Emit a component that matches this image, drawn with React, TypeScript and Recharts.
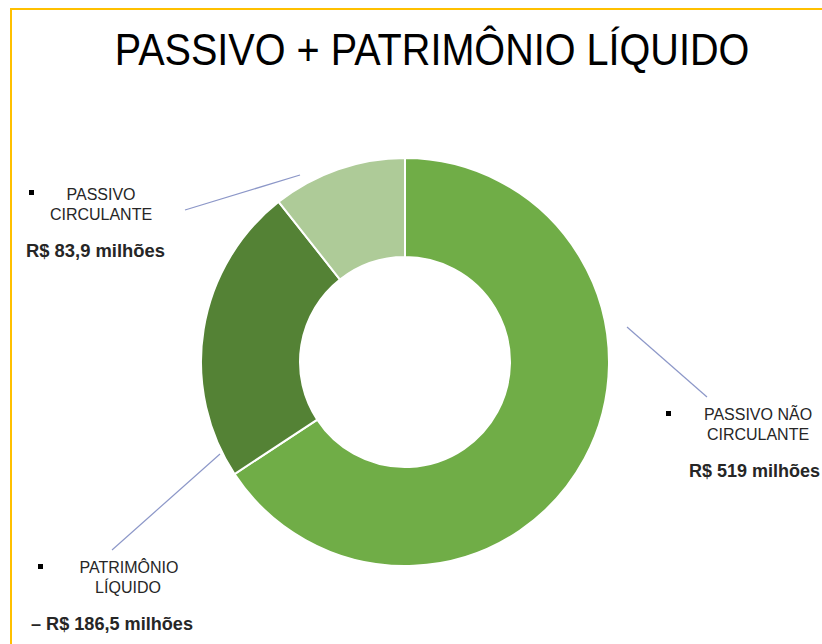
import { PieChart, Pie, Cell, Customized } from "recharts";

const categories = ["PASSIVO NÃO CIRCULANTE", "PATRIMÔNIO LÍQUIDO", "PASSIVO CIRCULANTE"];
const values = [519, 186.5, 83.9];
const valueLabels = ["R$ 519 milhões", "– R$ 186,5 milhões", "R$ 83,9 milhões"];
const colors = ["#70AD47", "#548235", "#AECB98"];

const data = categories.map((name, i) => ({ name, value: values[i] }));

const labelColor = "#262626";
const lineColor = "#8C97C8";

// text blocks + leader lines drawn on top of the pie
function Annotations() {
  return (
    <g fontFamily="'Liberation Sans', Arial, sans-serif">
      <g transform="translate(432 65) scale(0.88 1)">
        <text x={0} y={0} textAnchor="middle" fontSize={45} fill="#000">
          PASSIVO + PATRIMÔNIO LÍQUIDO
        </text>
      </g>

      {/* passivo circulante */}
      <line x1={185} y1={210} x2={300} y2={175} stroke={lineColor} strokeWidth={1.2} />
      <rect x={29} y={190} width={5} height={5} fill="#000" />
      <text x={101} y={200} textAnchor="middle" fontSize={16} fill={labelColor}>PASSIVO</text>
      <text x={101} y={220} textAnchor="middle" fontSize={16} fill={labelColor}>CIRCULANTE</text>
      <text x={26} y={257} fontSize={18} fontWeight="bold" fill={labelColor} textLength={139} lengthAdjust="spacingAndGlyphs">
        {valueLabels[2]}
      </text>

      {/* passivo nao circulante */}
      <line x1={627} y1={327} x2={707} y2={397} stroke={lineColor} strokeWidth={1.2} />
      <rect x={666} y={411} width={5} height={5} fill="#000" />
      <text x={758} y={420} textAnchor="middle" fontSize={16} fill={labelColor}>PASSIVO NÃO</text>
      <text x={758} y={440} textAnchor="middle" fontSize={16} fill={labelColor}>CIRCULANTE</text>
      <text x={689} y={477} fontSize={18} fontWeight="bold" fill={labelColor} textLength={131} lengthAdjust="spacingAndGlyphs">
        {valueLabels[0]}
      </text>

      {/* patrimonio liquido */}
      <line x1={220} y1={454} x2={112} y2={550} stroke={lineColor} strokeWidth={1.2} />
      <rect x={38} y={564} width={5} height={5} fill="#000" />
      <text x={129} y={573} textAnchor="middle" fontSize={16} fill={labelColor}>PATRIMÔNIO</text>
      <text x={128} y={593} textAnchor="middle" fontSize={16} fill={labelColor}>LÍQUIDO</text>
      <text x={31} y={630} fontSize={18} fontWeight="bold" fill={labelColor} textLength={162} lengthAdjust="spacingAndGlyphs">
        {valueLabels[1]}
      </text>
    </g>
  );
}

export default function App() {
  return (
    <div style={{ position: "absolute", left: 0, top: 0, width: 822, height: 644, background: "#fff", overflow: "hidden" }}>
      <div
        style={{
          position: "absolute",
          left: 10,
          top: 8,
          width: 830,
          height: 660,
          border: "2px solid #FFC000",
          boxSizing: "border-box",
        }}
      />
      <PieChart
        width={822}
        height={644}
        margin={{ top: 0, right: 0, bottom: 0, left: 0 }}
        style={{ position: "absolute", left: 0, top: 0 }}
      >
        <Pie
          data={data}
          dataKey="value"
          nameKey="name"
          cx={405}
          cy={362}
          innerRadius={105}
          outerRadius={204}
          startAngle={90}
          endAngle={-270}
          stroke="#fff"
          strokeWidth={2}
          isAnimationActive={false}
        >
          {data.map((d, i) => (
            <Cell key={d.name} fill={colors[i]} />
          ))}
        </Pie>
        <Customized component={Annotations} />
      </PieChart>
    </div>
  );
}
